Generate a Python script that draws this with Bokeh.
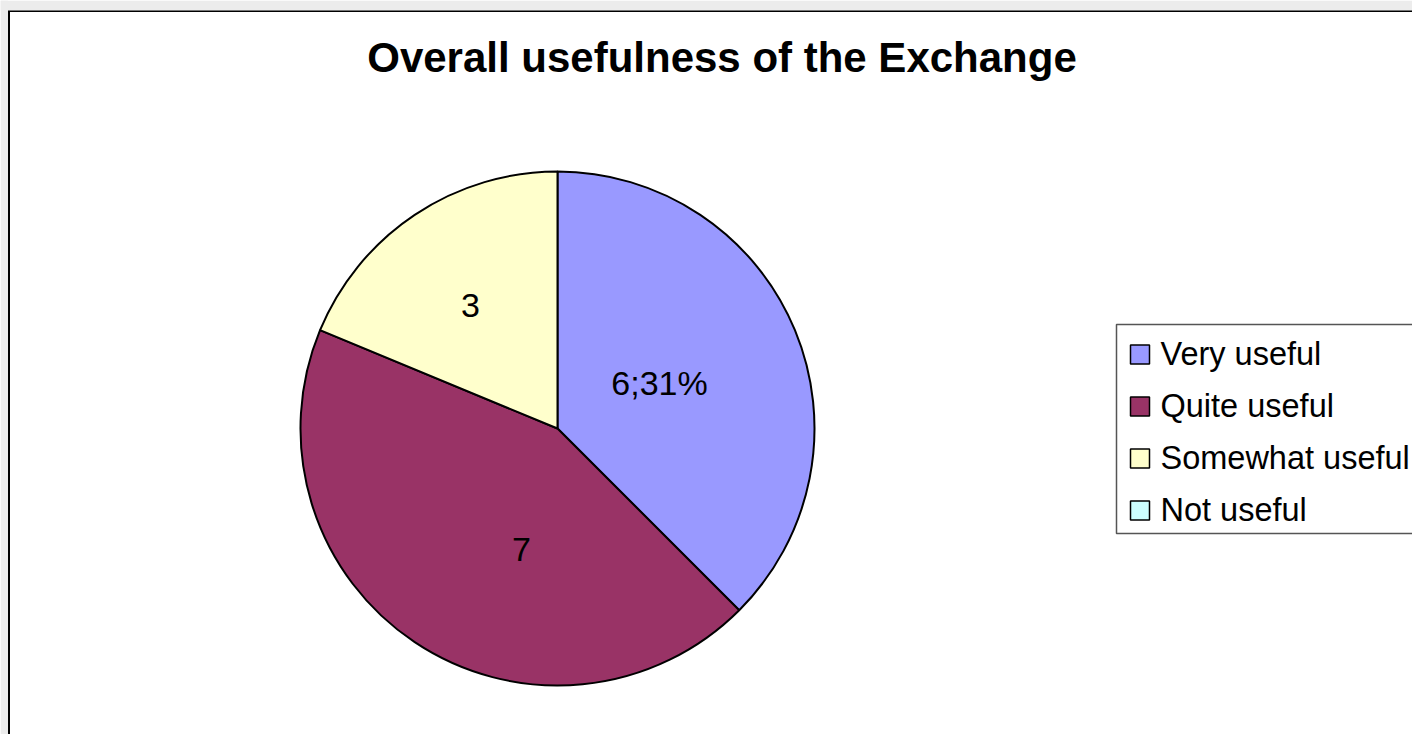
import math
from bokeh.plotting import figure
from bokeh.models import Range1d, ColumnDataSource, BoxAnnotation
from bokeh.core.properties import value
from bokeh.embed import file_html
from bokeh.resources import INLINE

# ---- data ----
categories = ["Very useful", "Quite useful", "Somewhat useful", "Not useful"]
counts = [6, 7, 3, 0]
data_labels = ["6;31%", "7", "3", ""]
colors = ["#9999FF", "#993366", "#FFFFCC", "#CCFFFF"]
title_text = "Overall usefulness of the Exchange"

# ---- layout (pixels in figure space, y up) ----
W, H = 1412, 734
cx, cy, R = 557, 306, 257
label_offsets = [(102, 32), (-36, -135), (-87, 109), (0, 0)]
FONT = "Liberation Sans"
TITLE_PX, LABEL_PX, LEGEND_PX = 42, 34, 32.5
BASE_FIX = 0.4  # baseline correction as a fraction of font size


def fix(size):
    return BASE_FIX * size


p = figure(width=W, height=H, output_backend="svg", toolbar_location=None,
           x_range=Range1d(0, W), y_range=Range1d(0, H), min_border=0,
           tools="")
p.axis.visible = False
p.grid.visible = False
p.outline_line_color = None
p.background_fill_color = "white"
p.border_fill_color = "white"

# light bands outside the chart frame
p.add_layout(BoxAnnotation(bottom=724, top=H, fill_color="#ececec", fill_alpha=1, line_color=None))
p.add_layout(BoxAnnotation(left=0, right=7.5, fill_color="#ececec", fill_alpha=1, line_color=None))
# frame lines (left and top)
p.segment(x0=[8.5, 7.5], y0=[0, 723.5], x1=[8.5, W], y1=[724.5, 723.5],
          line_color="black", line_width=2)

total = sum(counts)
starts, ends, fills, lx, ly, texts = [], [], [], [], [], []
cum = 0.0
for c, col, lab, (dx, dy) in zip(counts, colors, data_labels, label_offsets):
    a0 = math.pi / 2 - 2 * math.pi * cum / total
    cum += c
    a1 = math.pi / 2 - 2 * math.pi * cum / total
    if c > 0:
        starts.append(a0)
        ends.append(a1)
        fills.append(col)
        lx.append(cx + dx)
        ly.append(cy + dy + fix(LABEL_PX))
        texts.append(lab)

src = ColumnDataSource(dict(start=starts, end=ends, fill=fills))
p.wedge(x=cx, y=cy, radius=R, start_angle="start", end_angle="end", direction="clock",
        fill_color="fill", line_color="black", line_width=2, source=src)

p.text(x=lx, y=ly, text=texts, text_font=value(FONT), text_font_size=f"{LABEL_PX}px",
       text_align="center", text_baseline="alphabetic", text_color="black")

# title
p.text(x=[721.5], y=[660 + fix(TITLE_PX)], text=[title_text], text_font=value(FONT),
       text_font_size=f"{TITLE_PX}px", text_font_style="bold", text_align="center",
       text_baseline="alphabetic", text_color="black")

# legend box
p.quad(left=[1116], right=[W + 5], bottom=[201], top=[410], fill_color="white",
       line_color="#555555", line_width=1.5)
n = len(categories)
row_y = [380 - 52 * i for i in range(n)]
p.rect(x=[1139.5] * n, y=row_y, width=19, height=19, fill_color=colors,
       line_color="black", line_width=1.5)
p.text(x=[1160] * n, y=[y - 12 + fix(LEGEND_PX) for y in row_y], text=categories,
       text_font=value(FONT), text_font_size=f"{LEGEND_PX}px", text_align="left",
       text_baseline="alphabetic", text_color="black")

open("out.html", "w").write(file_html(p, INLINE))
